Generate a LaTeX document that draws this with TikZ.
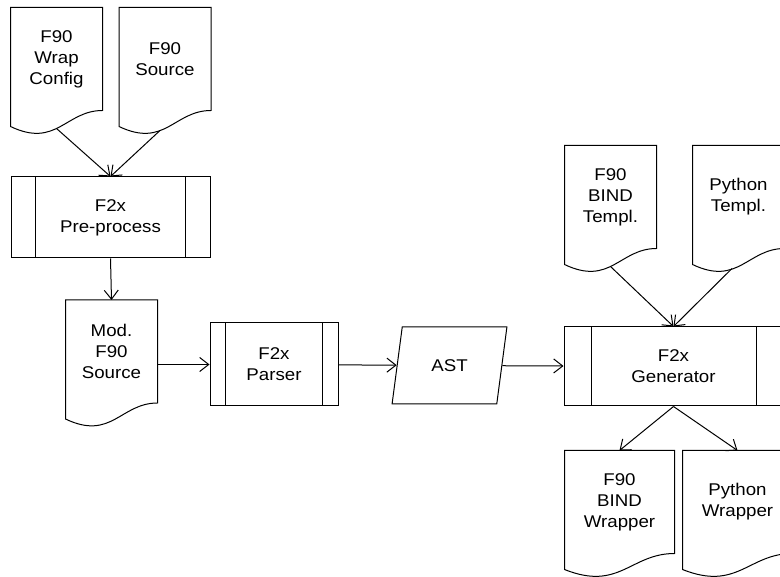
\documentclass[tikz,border=0pt]{standalone}
\usepackage{fontspec}
\setmainfont{Liberation Sans}[FakeStretch=1.1]
\usetikzlibrary{shapes.geometric,calc,arrows.meta}

\begin{document}
\begin{tikzpicture}[
  x=1pt, y=-1pt,
  line width=1pt,
  every node/.style={align=center, font=\fontsize{17}{21}\selectfont, inner sep=0pt},
  doc/.style={minimum width=91pt, minimum height=102pt},
  wide doc/.style={doc, minimum width=109pt},
  process/.style={draw, minimum height=81pt},
  data/.style={draw, trapezium, trapezium left angle=72, trapezium right angle=108,
               trapezium stretches=true, minimum width=115pt, minimum height=77pt},
  link/.style={-{Straight Barb[length=9pt,width=14pt]}}
]
\useasboundingbox (0,0) rectangle (780,577);

% inputs
\node[doc] (config) at (56.5,59) {F90\\Wrap\\Config};
\node[doc] (source) at (165,59) {F90\\Source};
\node[process, minimum width=199pt] (preproc) at (110.5,217.5) {F2x\\Pre-process};
\node[doc] (modsrc) at (111.5,351.5) {Mod.\\F90\\Source};

% parsing
\node[process, minimum width=128pt, minimum height=83pt] (parser) at (274,364.5) {F2x\\Parser};
\node[data] (ast) at (449.5,365.5) {AST};

% generating
\node[process, minimum width=219pt, minimum height=79pt] (generator) at (673.5,366.5) {F2x\\Generator};
\node[doc] (bindtmpl) at (610.5,197) {F90\\BIND\\Templ.};
\node[doc] (pytmpl) at (738.5,197) {Python\\Templ.};
\node[wide doc] (bindwrap) at (619.5,502) {F90\\BIND\\Wrapper};
\node[wide doc] (pywrap) at (737.5,502) {Python\\Wrapper};

% document outlines
\foreach \d in {config,source,modsrc,bindtmpl,pytmpl,bindwrap,pywrap}
  \draw (\d.north west) -- (\d.north east) -- (\d.south east)
    .. controls ($(\d.south east)!0.4!(\d.south west)$)
       and ($(\d.south west)!0.5!(\d.south east)+(0,-38pt)$)
    .. ([yshift=-16pt]\d.south west) -- cycle;

% side bars of the process boxes
\foreach \p in {preproc,parser,generator} {
  \draw ($(\p.north west)!0.125!(\p.north east)$) -- ($(\p.south west)!0.125!(\p.south east)$);
  \draw ($(\p.north east)!0.125!(\p.north west)$) -- ($(\p.south east)!0.125!(\p.south west)$);
}

% connectors
\draw[link] ([yshift=-18pt]config.south) -- (preproc.north);
\draw[link] ([xshift=-5pt,yshift=-20pt]source.south) -- (preproc.north);
\draw[link] (preproc.south) -- (modsrc.north);
\draw[link] (parser.west -| modsrc.east) -- (parser.west);
\draw[link] (parser) -- (ast);
\draw[link] (ast) -- (generator);
\draw[link] ([yshift=-18pt]bindtmpl.south) -- (generator.north);
\draw[link] ([xshift=-6.5pt,yshift=-20pt]pytmpl.south) -- (generator.north);
\draw[link] (generator.south) -- (bindwrap.north);
\draw[link] (generator.south) -- (pywrap.north);
\end{tikzpicture}
\end{document}
